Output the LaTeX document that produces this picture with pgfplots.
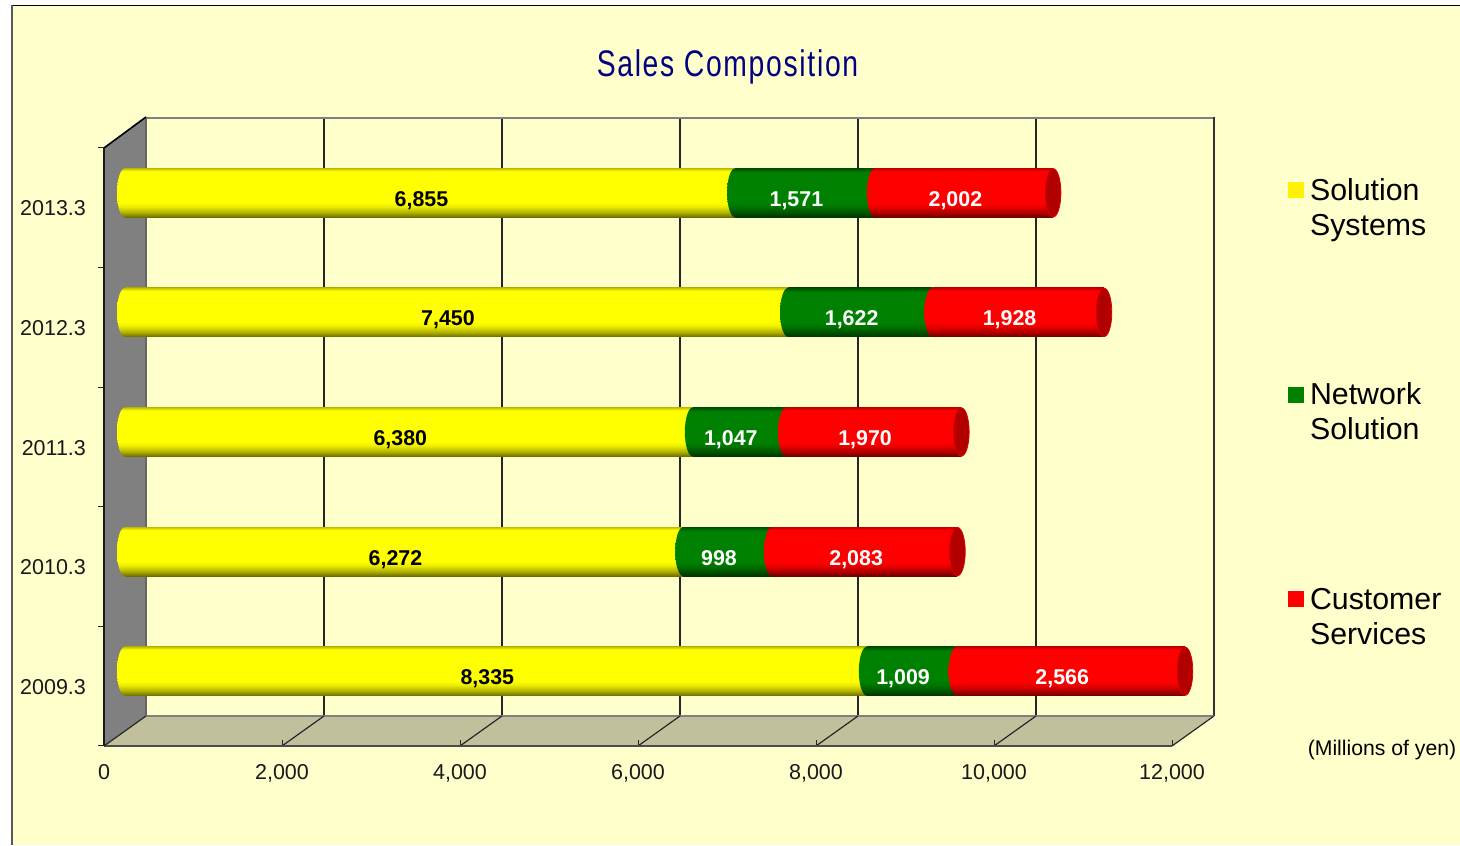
\documentclass[border=0pt]{standalone}
\usepackage{fontspec}
\setmainfont{Liberation Sans}
\newfontfamily\titlefont[LetterSpace=6]{Liberation Sans}
\usepackage{graphicx}
\usepackage{pgfplots}
\usepackage{pgfplotstable}
\pgfplotsset{compat=1.18}
\definecolor{paleY}{HTML}{FFFFCC}
\definecolor{floorc}{HTML}{C0C09C}
\definecolor{wallc}{HTML}{808080}
\definecolor{navyT}{HTML}{000080}
\definecolor{greenS}{HTML}{008000}
% 1 px of the reference = 0.5 pt
\pgfdeclareverticalshading{cylY}{100bp}{rgb(0bp)=(0.42,0.42,0);rgb(25bp)=(0.42,0.42,0);rgb(30bp)=(0.7,0.7,0);rgb(36bp)=(0.93,0.93,0);rgb(40bp)=(1,1,0);rgb(72bp)=(1,1,0);rgb(75bp)=(0.75,0.75,0);rgb(100bp)=(0.75,0.75,0)}
\pgfdeclareverticalshading{cylG}{100bp}{rgb(0bp)=(0,0.2,0);rgb(25bp)=(0,0.2,0);rgb(30bp)=(0,0.33,0);rgb(36bp)=(0,0.46,0);rgb(40bp)=(0,0.5,0);rgb(71bp)=(0,0.5,0);rgb(75bp)=(0,0.3,0);rgb(100bp)=(0,0.3,0)}
\pgfdeclareverticalshading{cylR}{100bp}{rgb(0bp)=(0.42,0,0);rgb(25bp)=(0.42,0,0);rgb(30bp)=(0.7,0,0);rgb(36bp)=(0.93,0,0);rgb(40bp)=(1,0,0);rgb(72bp)=(1,0,0);rgb(75bp)=(0.75,0,0);rgb(100bp)=(0.75,0,0)}
\pgfdeclareplotmark{capY}{\shade[draw=none,shading=cylY] (0pt,0pt) ellipse [x radius=4pt,y radius=12.25pt];}
\pgfdeclareplotmark{capG}{\shade[draw=none,shading=cylG] (0pt,0pt) ellipse [x radius=4pt,y radius=12.25pt];}
\pgfdeclareplotmark{capR}{\shade[draw=none,shading=cylR] (0pt,0pt) ellipse [x radius=4pt,y radius=12.25pt];}
\pgfdeclareplotmark{capE}{\filldraw[fill=red!70!black,draw=red!85!black,line width=0.4pt] (0pt,0pt) ellipse [x radius=3.9pt,y radius=12.1pt];}
\pgfplotstableread{
y a b c
0 8335 1009 2566
1 6272 998 2083
2 6380 1047 1970
3 7450 1622 1928
4 6855 1571 2002
}\salesdata
\newcommand{\px}[2]{({(#1)*0.5pt},{(845-(#2))*0.5pt})}
\pgfplotsset{
  base/.style={scale only axis,width=534pt,height=299pt,xmin=0,xmax=12000,ymin=-0.5,ymax=4.5,clip=false,enlargelimits=false},
  sq/.style={legend image code/.code={\fill[draw=none,fill=#1] (0pt,5.1pt) rectangle (8pt,13.1pt);\path[draw=none] (10pt,5.1pt) -- (10pt,13.1pt);}},
}
\newcommand{\rowbars}[2]{%
\begin{axis}[base,at={(62.5pt,57pt)},anchor=south west,hide axis,
  xbar stacked,bar width=24.5pt,restrict y to domain=#1:#2]
\addplot[draw=none,shade,shading=cylY,forget plot] table[x=a,y=y] {\salesdata};
\addplot[draw=none,shade,shading=cylG,forget plot] table[x=b,y=y] {\salesdata};
\addplot[draw=none,shade,shading=cylR,forget plot] table[x=c,y=y] {\salesdata};
\end{axis}}
\begin{document}
\begin{tikzpicture}
\useasboundingbox (0,0) rectangle (730pt,422.5pt);
\fill[white] (0,0) rectangle (730pt,422.5pt);
\fill[paleY] \px{12}{5} rectangle \px{1460}{845};
\draw[black,line width=0.6pt] \px{1460}{5.5} -- \px{12}{5.5};
\draw[black!65,line width=0.7pt] \px{12}{5.5} -- \px{12}{845};
% walls
\fill[wallc] \px{104}{746} -- \px{146}{716} -- \px{146}{117} -- \px{104}{148} -- cycle;
\fill[floorc] \px{104}{746} -- \px{1172}{746} -- \px{1214}{716} -- \px{146}{716} -- cycle;
\node[font=\titlefont\fontsize{18.5}{22}\selectfont,text=navyT,inner sep=0pt] at \px{727.5}{67} {\scalebox{0.765}[1]{Sales Composition}};
\node[font=\fontsize{10.6}{12}\selectfont,inner sep=0pt] at \px{1382}{750} {(Millions of yen)};
% back wall grid
\begin{axis}[base,at={(73pt,64.5pt)},anchor=south west,
  xtick={0,2000,4000,6000,8000,10000,12000},ytick=\empty,xticklabels=\empty,
  scaled x ticks=false,
  major tick length=0pt,
  xmajorgrids,grid style={black!85,line width=0.7pt},
  axis x line*=top,axis y line*=right,
  axis line style={-,black!50,line width=0.8pt}]
\addplot[draw=none,forget plot] coordinates {(0,0) (12000,4)};
\end{axis}
\draw[black!80,line width=0.8pt] \px{1214}{117} -- \px{1214}{716};
\draw[black!50,line width=0.8pt] \px{146}{716} -- \px{1214}{716};
\draw[black!60,line width=0.6pt] \px{146}{117} -- \px{146}{716};
% floor diagonals and corners
\foreach \k in {0,...,6}{
  \draw[black!85,line width=0.6pt] \px{104+178*\k}{746} -- \px{146+178*\k}{716};
}
\draw[black,line width=0.8pt] \px{104}{148} -- \px{146}{117};
% front axes with ticks
\begin{axis}[base,at={(52pt,49.5pt)},anchor=south west,
  axis x line=bottom,axis y line=left,
  axis line style={-},
  x axis line style={black!70,line width=0.9pt},
  y axis line style={black!90,line width=0.9pt},
  xtick={0,2000,4000,6000,8000,10000,12000},
  ytick={0,1,2,3,4},yticklabels={2009.3,2010.3,2011.3,2012.3,2013.3},
  minor ytick={-0.5,0.5,1.5,2.5,3.5,4.5},
  xtick align=inside,ytick align=outside,
  x tick style={black!85,line width=0.5pt},
  major tick length=3pt,minor tick length=3pt,
  ytick style={draw=none},
  minor y tick style={draw=black!85,line width=0.5pt},
  scaled x ticks=false,
  /pgf/number format/1000 sep={,},
  /pgf/number format/assume math mode=true,
  ticklabel style={font=\fontsize{10.75}{12}\selectfont,text=black!90},
  xticklabel style={yshift=-5.5pt},
  yticklabel style={xshift=-2.5pt,yshift=-0.4pt},
]
\addplot[draw=none,forget plot] coordinates {(0,0) (12000,4)};
\end{axis}
% bars: one stacked axis per year, so each bar has its own cylinder shading
\rowbars{-0.2}{0.2}
\rowbars{0.8}{1.2}
\rowbars{1.8}{2.2}
\rowbars{2.8}{3.2}
\rowbars{3.8}{4.2}
% legend
\begin{axis}[base,at={(62.5pt,57pt)},anchor=south west,hide axis,
  legend style={at={(1.089,0.928)},anchor=north west,draw=none,fill=none,
    row sep=70.5pt,inner sep=0pt,outer sep=0pt,
    nodes={align=left,font=\fontsize{15.15}{17.5}\selectfont,inner sep=1pt}},
  legend cell align=left,
]
\addplot[draw=none,forget plot] coordinates {(0,0) (12000,4)};
\addlegendimage{sq=yellow}
\addlegendimage{sq=greenS}
\addlegendimage{sq=red}
\legend{Solution\\Systems,Network\\Solution,Customer\\Services}
\end{axis}
% cylinder rings and values
\begin{axis}[base,at={(62.5pt,57pt)},anchor=south west,hide axis,
  /pgf/number format/1000 sep={,},
  /pgf/number format/assume math mode=true,
  nodes near coords style={anchor=base,inner sep=0pt,xshift=-4.3pt,yshift=-6.75pt,font=\fontsize{10.7}{12}\selectfont\bfseries},
]
\addplot[only marks,mark=capY,mark options={draw=none}] table[x expr=0,y=y] {\salesdata};
\addplot[only marks,mark=capG,mark options={draw=none}] table[x expr=\thisrow{a},y=y] {\salesdata};
\addplot[only marks,mark=capR,mark options={draw=none}] table[x expr=\thisrow{a}+\thisrow{b},y=y] {\salesdata};
\addplot[only marks,mark=capE,mark options={draw=none}] table[x expr=\thisrow{a}+\thisrow{b}+\thisrow{c},y=y] {\salesdata};
\addplot[draw=none,mark=none,point meta=explicit,nodes near coords,nodes near coords style={text=black}]
  table[x expr=\thisrow{a}/2,y=y,meta=a] {\salesdata};
\addplot[draw=none,mark=none,point meta=explicit,nodes near coords,nodes near coords style={text=white}]
  table[x expr=\thisrow{a}+\thisrow{b}/2,y=y,meta=b] {\salesdata};
\addplot[draw=none,mark=none,point meta=explicit,nodes near coords,nodes near coords style={text=white}]
  table[x expr=\thisrow{a}+\thisrow{b}+\thisrow{c}/2,y=y,meta=c] {\salesdata};
\end{axis}
\end{tikzpicture}
\end{document}
